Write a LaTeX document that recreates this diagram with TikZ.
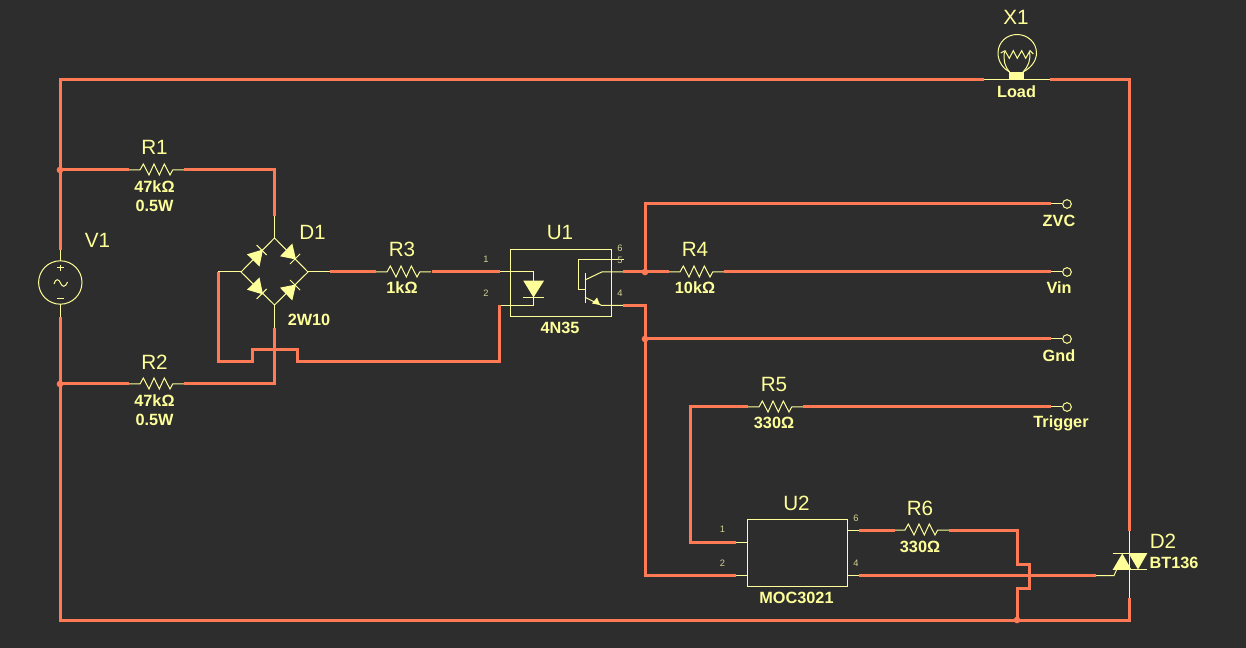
\documentclass[tikz,border=0pt]{standalone}
\usepackage{fontspec}
\setmainfont{Liberation Sans}
\definecolor{bgc}{HTML}{2D2D2D}
\definecolor{wirec}{HTML}{FF7A55}
\definecolor{symc}{HTML}{FFFF99}
\definecolor{pinc}{HTML}{D2D292}
\tikzset{
 x=0.75pt,y=-0.75pt,
 wire/.style={draw=wirec,line width=2.25pt,line join=miter},
 sym/.style={draw=symc,line width=0.75pt},
 ref/.style={text=symc,font=\fontsize{15.5}{17}\selectfont,inner sep=0pt},
 val/.style={text=symc,font=\fontsize{12.2}{14}\selectfont\bfseries,inner sep=0pt},
 pinno/.style={text=pinc,font=\fontsize{7}{8}\selectfont,inner sep=0pt},
 jdot/.style={circle,fill=wirec,draw=none,minimum size=5pt,inner sep=0pt},
 term/.style={circle,draw=symc,line width=0.75pt,fill=bgc,minimum size=6.5pt,inner sep=0pt},
}
\newcommand{\resistor}[2]{% centre x, y
 \draw[sym] (#1-28,#2) -- (#1-17,#2) -- (#1-13.7,#2-6) -- (#1-8,#2+5) -- (#1-3,#2-6) -- (#1+2.3,#2+5) -- (#1+7.3,#2-6) -- (#1+13,#2+5) -- (#1+15.7,#2) -- (#1+27,#2);
}
\begin{document}
\begin{tikzpicture}
\useasboundingbox (0,0) rectangle (1246,648);
\fill[bgc] (0,0) rectangle (1246,648);

% named connection points
\coordinate (v1t) at (60,250);
\coordinate (v1b) at (60,317);
\coordinate (jr1) at (60,170);
\coordinate (jr2) at (60,384);
\coordinate (r1l) at (129,170);
\coordinate (r1r) at (184,170);
\coordinate (r2l) at (129,384);
\coordinate (r2r) at (184,384);
\coordinate (d1t) at (274.5,216);
\coordinate (d1b) at (274.5,328);
\coordinate (d1l) at (218,272);
\coordinate (d1r) at (330,272);
\coordinate (r3l) at (376,272);
\coordinate (r3r) at (432,272);
\coordinate (u1a) at (500,272);
\coordinate (u1c) at (499,305.5);
\coordinate (u1e) at (623,272);
\coordinate (u1f) at (623,305.5);
\coordinate (r4l) at (669,272);
\coordinate (r4r) at (724,272);
\coordinate (j4) at (645,272);
\coordinate (j5) at (645,339);
\coordinate (r5l) at (748,407);
\coordinate (r5r) at (803,407);
\coordinate (r6l) at (895,530);
\coordinate (r6r) at (949,530);
\coordinate (u2a) at (736,542);
\coordinate (u2b) at (736,575);
\coordinate (u2c) at (859,530);
\coordinate (u2d) at (859,575.5);
\coordinate (lmp1) at (984,80);
\coordinate (lmp2) at (1050,80);
\coordinate (d2t) at (1129.5,531);
\coordinate (d2b) at (1129.5,598);
\coordinate (d2g) at (1096,575.5);
\coordinate (j6) at (1017,620);
\coordinate (ez) at (1051,204);
\coordinate (ev) at (1051,272);
\coordinate (eg) at (1051,339);
\coordinate (et) at (1051,407);
\node[term] (tz) at (1067,204) {};
\node[term] (tv) at (1067,272) {};
\node[term] (tg) at (1067,339) {};
\node[term] (tt) at (1067,407) {};
\draw[sym] (ez) -- (tz);
\draw[sym] (ev) -- (tv);
\draw[sym] (eg) -- (tg);
\draw[sym] (et) -- (tt);

% V1
\draw[sym] (v1t) -- (60,261) (60,304) -- (v1b);
\draw[sym] (60.3,282.5) circle (21.7);
\draw[sym] (60.3,265) -- (60.3,271) (57,268) -- (63.6,268);
\draw[sym] (57,299) -- (63.6,299);
\draw[sym] (54,284) .. controls (55.5,278) and (59,279) .. (60.5,283) .. controls (62,287) and (65.5,288) .. (67.5,282);

\resistor{157}{170}
\resistor{157}{384}
\resistor{404}{272}
\resistor{697}{272}
\resistor{776}{407}
\resistor{922}{530}

% D1 bridge
\draw[sym] (274.5,238) -- (308,272) -- (274.5,305) -- (241,272) -- cycle;
\draw[sym] (d1t) -- (274.5,238) (274.5,305) -- (d1b) (d1l) -- (241,272) (308,272) -- (d1r);
\fill[symc] (263,249.5) -- (247,254.3) -- (259.5,266.5) -- cycle;
\fill[symc] (296,259.5) -- (280,256.3) -- (292.3,243.5) -- cycle;
\fill[symc] (263,294.5) -- (247,289.7) -- (259.5,277.5) -- cycle;
\fill[symc] (296,284.5) -- (280,287.7) -- (292.3,300.5) -- cycle;
\draw[sym] (256.7,245) -- (266.7,255) (290,264) -- (300,254) (256.7,299) -- (266.7,289) (290,280) -- (300,290);

% U1
\draw[sym] (510.5,249.5) rectangle (611.5,316.5);
\draw[sym] (u1a) -- (533.3,272) -- (533.3,281) (533.3,297) -- (533.3,305.5) -- (u1c);
\fill[symc] (523.3,280.7) -- (544,280.7) -- (533.5,297.5) -- cycle;
\draw[sym] (523.3,297.5) -- (544,297.5);
\draw[sym] (624,260) -- (578.3,260) -- (578.3,289.3) -- (585,289.3);
\draw[sym] (585,273.3) -- (585,303.3);
\draw[sym] (585,280) -- (601.7,272) -- (u1e);
\draw[sym] (585,297.3) -- (601.7,305.5) -- (u1f);
\fill[symc] (600,305) -- (592,303.5) -- (597,297.5) -- cycle;

% U2
\draw[sym] (747.5,519.5) rectangle (847.5,586.5);
\draw[sym] (u2a) -- (747,542) (u2b) -- (747,575) (848,530) -- (u2c) (848,575.5) -- (u2d);

% Bulb
\draw[sym] (lmp1) -- (lmp2);
\fill[symc] (1009,72) rectangle (1023.5,80);
\draw[sym] (1009.5,72) .. controls (1003,68.5) and (998,61.5) .. (998,53) .. controls (998,42.5) and (1006.5,34.5) .. (1017,34.5) .. controls (1027.5,34.5) and (1036.5,42.5) .. (1036.5,53) .. controls (1036.5,61.5) and (1030,68.5) .. (1023,72);
\draw[sym] (1009.5,72) .. controls (1005,67) and (1003,60) .. (1004.5,52);
\draw[sym] (1023,72) .. controls (1028,67) and (1031,60) .. (1029.5,52);
\draw[sym] (1000.7,53) -- (1005,50.7) -- (1009.3,58.3) -- (1013.3,50.7) -- (1017.3,58.3) -- (1021.7,50.7) -- (1025.7,58.3) -- (1030,50.7) -- (1033.3,54);

% D2 triac
\draw[sym] (d2t) -- (d2b);
\draw[sym] (1112.7,553.5) -- (1147.3,553.5) (1112.7,569.5) -- (1147.3,569.5);
\fill[symc] (1112.7,569.8) -- (1122.3,553.5) -- (1131.5,569.8) -- cycle;
\fill[symc] (1128.5,553.2) -- (1147.3,553.2) -- (1138,569.5) -- cycle;
\draw[sym] (d2g) -- (1114,575.5) -- (1116.5,570);

% wires
\draw[wire] (lmp1) -- (60,80) -- (v1t);
\draw[wire] (lmp2) -- (1129.5,80) -- (d2t);
\draw[wire] (v1b) -- (60,620) -- (1129.5,620) -- (d2b);
\draw[wire] (jr1) -- (r1l);
\draw[wire] (r1r) -- (274.5,170) -- (d1t);
\draw[wire] (jr2) -- (r2l);
\draw[wire] (r2r) -- (274.5,384) -- (d1b);
\draw[wire] (d1l) -- (218,362) -- (252,362) -- (252,350) -- (297,350) -- (297,362) -- (499,362) -- (u1c);
\draw[wire] (d1r) -- (r3l);
\draw[wire] (r3r) -- (u1a);
\draw[wire] (u1e) -- (r4l);
\draw[wire] (r4r) -- (ev);
\draw[wire] (j4) -- (645,204) -- (ez);
\draw[wire] (u1f) -- (645,305.5) -- (645,575) -- (u2b);
\draw[wire] (j5) -- (eg);
\draw[wire] (r5r) -- (et);
\draw[wire] (r5l) -- (690.5,407) -- (690.5,542) -- (u2a);
\draw[wire] (u2c) -- (r6l);
\draw[wire] (r6r) -- (1017,530) -- (1017,564) -- (1029,564) -- (1029,588) -- (1017,588) -- (j6);
\draw[wire] (u2d) -- (d2g);

\node[jdot] (dr1) at (jr1) {};
\node[jdot] (dr2) at (jr2) {};
\node[jdot] (d4) at (j4) {};
\node[jdot] (d5) at (j5) {};
\node[jdot] (d6) at (j6) {};

% labels
\node[ref] (lx1) at (1016,17.5) {X1};
\node[val] (lload) at (1016.5,92) {Load};
\node[ref] (lr1) at (154.5,147.5) {R1};
\node[val] (v1a) at (154.5,187) {47kΩ};
\node[val] (v1c) at (154.5,205.5) {0.5W};
\node[ref] (lv1) at (97.5,240) {V1};
\node[ref] (ldone) at (312.5,232.5) {D1};
\node[val] (l2w) at (309,320) {2W10};
\node[ref] (lr2) at (154.5,362) {R2};
\node[val] (v2a) at (154.5,401) {47kΩ};
\node[val] (v2c) at (154.5,419.5) {0.5W};
\node[ref] (lr3) at (402,249) {R3};
\node[val] (v3) at (402,288) {1kΩ};
\node[ref] (lu1) at (560,232.5) {U1};
\node[val] (u1n) at (560,328) {4N35};
\node[ref] (lr4) at (695,249) {R4};
\node[val] (v4) at (695,288) {10kΩ};
\node[ref] (lr5) at (774,384) {R5};
\node[val] (v5) at (774,423) {330Ω};
\node[ref] (lu2) at (796.5,503) {U2};
\node[val] (u2n) at (796.5,598) {MOC3021};
\node[ref] (lr6) at (920,508) {R6};
\node[val] (v6) at (920,547) {330Ω};
\node[ref] (ldtwo) at (1163,541) {D2};
\node[val] (bt) at (1174,563) {BT136};
\node[val] (zvc) at (1059,221) {ZVC};
\node[val] (vin) at (1059,288) {Vin};
\node[val] (gnd) at (1059,356) {Gnd};
\node[val] (trg) at (1061,423) {Trigger};
\node[pinno] (pa) at (486,259.5) {1};
\node[pinno] (pb) at (486,293.5) {2};
\node[pinno] (pc) at (620,248) {6};
\node[pinno] (pd) at (620,260) {5};
\node[pinno] (pe) at (620,293.5) {4};
\node[pinno] (pf) at (722.5,529.5) {1};
\node[pinno] (pg) at (722.5,563.5) {2};
\node[pinno] (ph) at (856,518.5) {6};
\node[pinno] (pi) at (856,563.5) {4};
\end{tikzpicture}
\end{document}
